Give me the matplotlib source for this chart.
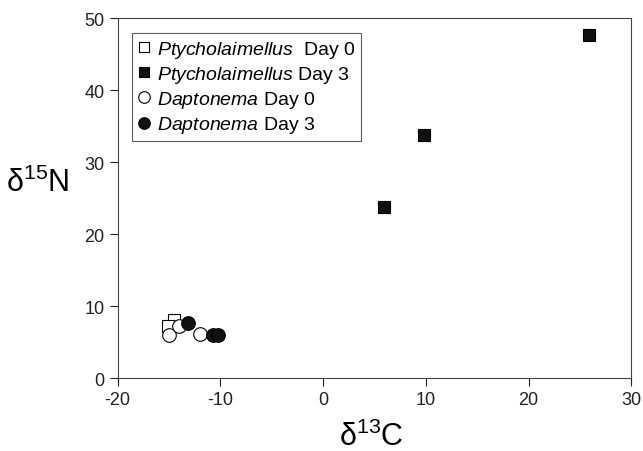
import numpy as np
import matplotlib
matplotlib.use("Agg")
import matplotlib.pyplot as plt

plt.rcParams['font.family'] = ['Liberation Sans', 'DejaVu Sans']
plt.rcParams['mathtext.fontset'] = 'custom'
plt.rcParams['mathtext.rm'] = 'Liberation Sans'
plt.rcParams['mathtext.it'] = 'Liberation Sans:italic'
plt.rcParams['axes.unicode_minus'] = False

# delta 13C / delta 15N values
pty_d0_x = [-14.5, -15.1]
pty_d0_y = [8.1, 7.3]
pty_d3_x = [5.9, 9.8, 25.9]
pty_d3_y = [23.8, 33.8, 47.7]
dap_d0_x = [-15.0, -14.0, -12.0]
dap_d0_y = [6.0, 7.3, 6.2]
dap_d3_x = [-13.2, -10.7, -10.2]
dap_d3_y = [7.7, 6.0, 6.0]

labels = [r'$\it{Ptycholaimellus}$  Day 0', r'$\it{Ptycholaimellus}$ Day 3',
          r'$\it{Daptonema}$ Day 0', r'$\it{Daptonema}$ Day 3']

fig = plt.figure(figsize=(6.43, 4.52), dpi=100)
ax = fig.add_axes([0.183, 0.161, 0.799, 0.796])

ms = 9
ax.plot(pty_d0_x, pty_d0_y, 's', ms=ms, mfc='white', mec='black', mew=0.8, ls='none', label=labels[0])
ax.plot(pty_d3_x, pty_d3_y, 's', ms=ms, mfc='#111111', mec='black', mew=0.8, ls='none', label=labels[1])
ax.plot(dap_d0_x, dap_d0_y, 'o', ms=ms + 0.8, mfc='white', mec='black', mew=0.8, ls='none', label=labels[2])
ax.plot(dap_d3_x, dap_d3_y, 'o', ms=ms + 0.8, mfc='#111111', mec='black', mew=0.8, ls='none', label=labels[3])

ax.set_xlim(-20, 30)
ax.set_ylim(0, 50)
ax.set_xticks(np.arange(-20, 31, 10))
ax.set_yticks(np.arange(0, 51, 10))
ax.tick_params(direction='out', length=6, width=0.8, labelsize=13, colors='#222222')
for s in ax.spines.values():
    s.set_linewidth(0.8)
    s.set_color('#444444')

fig.text(0.578, 0.033, r'$\mathrm{\delta}^{13}$C', fontsize=22, ha='center', va='center')
fig.text(0.058, 0.595, r'$\mathrm{\delta}^{15}$N', fontsize=22, ha='center', va='center')

leg = ax.legend(loc='upper left', bbox_to_anchor=(0.027, 0.96), fontsize=14,
                frameon=True, fancybox=False, handlelength=0.7, handletextpad=0.3,
                borderpad=0.3, labelspacing=0.22, borderaxespad=0, markerscale=0.85)
leg.get_frame().set_edgecolor('#333333')
leg.get_frame().set_linewidth(0.8)

fig.savefig('out.png', dpi=100)
